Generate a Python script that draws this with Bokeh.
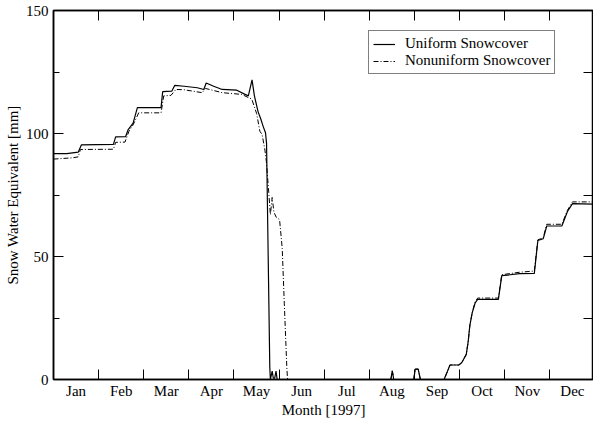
from bokeh.plotting import figure
from bokeh.models import (FixedTicker, LinearAxis, Legend, LegendItem, Range1d,
                          CustomJSTickFormatter)
from bokeh.embed import file_html
from bokeh.resources import INLINE

# ---- data (day of year 1997, snow water equivalent in mm) ----
months = ["Jan", "Feb", "Mar", "Apr", "May", "Jun", "Jul", "Aug", "Sep", "Oct", "Nov", "Dec"]
month_bounds = [30.5 * k for k in range(1, 12)]
month_mids = [15.25 + 30.5 * k for k in range(12)]

days_uniform = [0, 9, 16.7, 18.9, 40.5, 42, 48.7, 50.5, 53.8, 56.7, 72.7, 73.8, 79.9, 82,
                88.3, 97.2, 101.6, 103.2, 108.3, 114, 123.9, 129.5, 131.7, 134.2, 135.8,
                138.3, 140, 141.7, 143.3, 144, 146.2, 146.6, 147.8, 148.6, 149.5, 150.4,
                151.2, 228, 229, 230, 243.5, 244.5, 246.5, 248, 264, 265.8, 268, 274, 276,
                279, 280.3, 281.4, 283, 285, 286.7, 300.7, 303, 315, 325, 327.4, 331, 333.4,
                343.6, 347.4, 350.8, 365]
swe_uniform = [91.8, 91.8, 92.4, 95.4, 95.6, 98.6, 98.7, 101.6, 104.2, 110.5, 110.5, 117,
               117.2, 119.6, 119.2, 118.6, 117.9, 120.5, 119.2, 117.9, 117.6, 115.9, 115.3,
               121.8, 115.3, 108.8, 106.1, 102.9, 100.3, 96, 5, 0, 3.4, 0.5, 0.5, 3.4, 0,
               0, 3.5, 0, 0, 4.2, 4.2, 0, 0, 2.6, 5.9, 5.9, 6.9, 10.2, 15.4, 21.9, 27.1,
               31.1, 32.6, 32.6, 42.2, 43.0, 43.1, 56.5, 57.2, 62.4, 62.4, 68.3, 71.5, 71.3]

days_nonuniform = [0, 12.7, 16.7, 18.2, 40.5, 42, 48.3, 51, 53.8, 57.6, 72.7, 74.5, 79.4,
                   82.7, 88, 100.5, 102.8, 114, 127.3, 131.7, 134, 137.3, 139.5, 141, 142.8,
                   143.9, 145.5, 146.6, 147.8, 149, 150.5, 152.8, 154.6, 156, 157.7, 158.2,
                   228, 229, 230, 243.5, 244.5, 246.5, 248, 264, 265.8, 268, 274, 276, 279,
                   280.3, 281.4, 283, 285, 286.7, 300.7, 303, 315, 325, 327.4, 331, 333.4,
                   343.6, 347.4, 350.8, 365]
swe_nonuniform = [89.6, 90.1, 90.5, 93.5, 93.6, 96.4, 96.5, 100.9, 103.5, 108.4, 108.4,
                  115.3, 115.5, 117.9, 117.8, 116.6, 118.3, 116.6, 115.9, 114.6, 114, 108.1,
                  100.9, 99.6, 93.7, 88.5, 76, 67, 74, 68, 66, 65, 53.3, 31, 5, 0, 0, 3.5,
                  0, 0, 4.2, 4.2, 0, 0, 2.6, 5.9, 5.9, 6.9, 10.2, 15.4, 21.9, 27.1, 31.6,
                  33.1, 33.1, 42.6, 43.6, 44.1, 56.8, 57.5, 63.1, 63.1, 68.8, 72.2, 72.2]

y_major = [0, 50, 100, 150]
y_minor = [25, 75, 125]

FONT = "Liberation Serif"

p = figure(width=593, height=420, x_range=Range1d(0, 365), y_range=Range1d(0, 150),
           output_backend="svg", toolbar_location=None,
           min_border_left=53, min_border_top=10, min_border_right=0, min_border_bottom=35,
           x_axis_type=None, y_axis_type=None)
p.grid.visible = False
p.outline_line_color = "black"
p.outline_line_width = 1.5
p.background_fill_color = "white"
p.border_fill_color = "white"

def style_axis(ax):
    ax.axis_line_color = "black"
    ax.axis_line_width = 1.5
    ax.major_tick_line_color = "black"
    ax.minor_tick_line_color = "black"
    ax.major_tick_line_width = 1
    ax.minor_tick_line_width = 1
    ax.major_tick_out = 0
    ax.minor_tick_out = 0
    ax.major_label_text_font = FONT
    ax.major_label_text_color = "black"
    ax.major_label_text_font_size = "15px"
    ax.axis_label_text_font = FONT
    ax.axis_label_text_font_style = "normal"
    ax.axis_label_text_font_size = "15px"
    ax.axis_label_text_color = "black"

blank = CustomJSTickFormatter(code="return ''")

# bottom axis: month names at mid-month, tick marks at month boundaries
xb = LinearAxis(ticker=FixedTicker(ticks=month_mids, minor_ticks=month_bounds),
                formatter=CustomJSTickFormatter(args=dict(names=months),
                                                code="return names[index]"),
                axis_label="Month [1997]")
style_axis(xb)
xb.major_tick_in = 0
xb.minor_tick_in = 10
xb.major_label_standoff = 3
xb.axis_label_standoff = 0
p.add_layout(xb, "below")

xt = LinearAxis(ticker=FixedTicker(ticks=month_mids, minor_ticks=month_bounds),
                formatter=blank)
style_axis(xt)
xt.major_tick_in = 0
xt.minor_tick_in = 10
xt.major_label_text_font_size = "0px"
xt.major_label_standoff = 0
p.add_layout(xt, "above")

yl = LinearAxis(ticker=FixedTicker(ticks=y_major, minor_ticks=y_minor),
                axis_label="Snow Water Equivalent [mm]")
style_axis(yl)
yl.major_tick_in = 10
yl.minor_tick_in = 6
yl.major_label_standoff = 5
yl.axis_label_standoff = 2
p.add_layout(yl, "left")

yr = LinearAxis(ticker=FixedTicker(ticks=y_major, minor_ticks=y_minor), formatter=blank)
style_axis(yr)
yr.major_tick_in = 10
yr.minor_tick_in = 10
yr.major_label_text_font_size = "0px"
yr.major_label_standoff = 0
p.add_layout(yr, "right")

r_u = p.line(days_uniform, swe_uniform, line_color="black", line_width=1.2)
r_n = p.line(days_nonuniform, swe_nonuniform, line_color="black", line_width=1,
             line_dash="5 2 1 2")

legend = Legend(items=[LegendItem(label="Uniform Snowcover", renderers=[r_u]),
                       LegendItem(label="Nonuniform Snowcover", renderers=[r_n])],
                location=(315, 305))
legend.label_text_font = FONT
legend.label_text_font_size = "15px"
legend.label_text_color = "black"
legend.label_height = 12
legend.glyph_height = 12
legend.glyph_width = 22
legend.label_standoff = 10
legend.spacing = 0
legend.padding = 4
legend.margin = 0
legend.border_line_color = "black"
legend.border_line_width = 1
legend.background_fill_alpha = 1
legend.label_text_line_height = 0.9
p.add_layout(legend, "center")

open("out.html", "w").write(file_html(p, INLINE))
